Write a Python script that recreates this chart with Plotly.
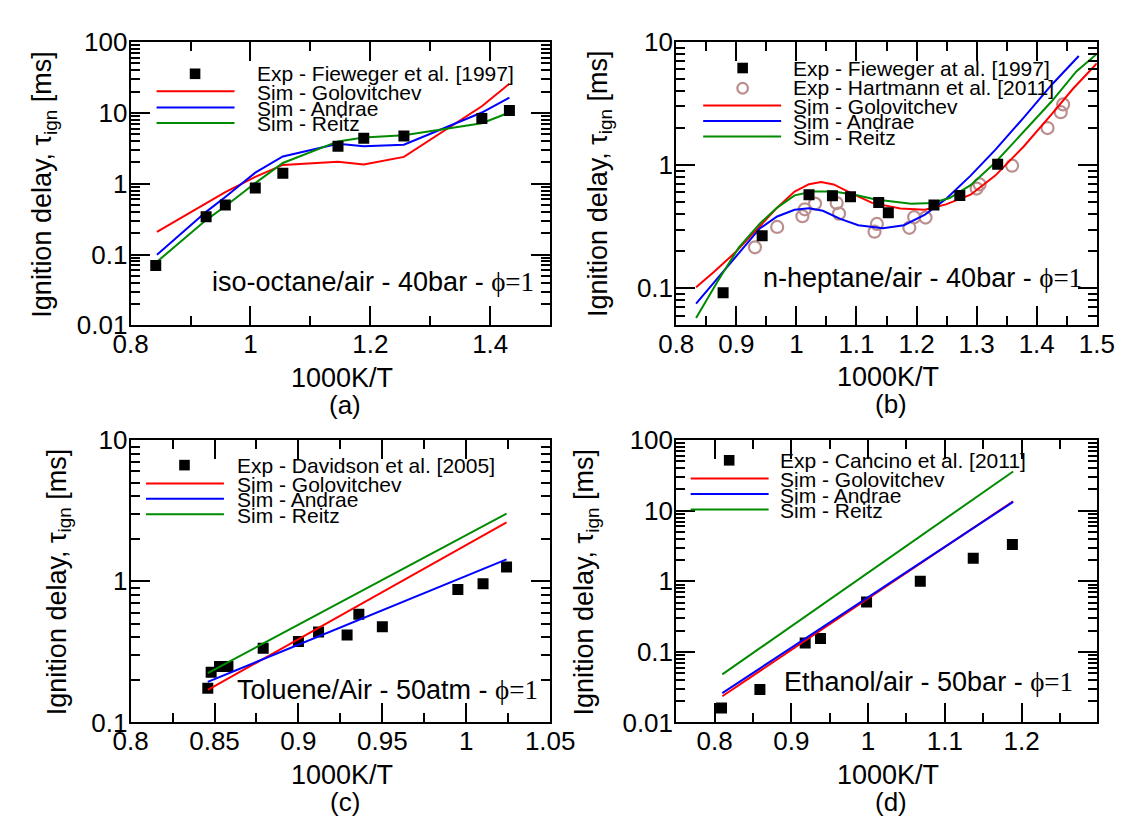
import plotly.graph_objects as go

FONT = "Liberation Sans, Arial, Helvetica, sans-serif"
SERIF = "Liberation Serif, Times New Roman, serif"
RED, BLUE, GREEN, ROSY = "#ff0000", "#0000ff", "#008b00", "#bc8f8f"
W, H = 1142, 830

# ---------------- data ----------------
# (a) iso-octane/air 40 bar
a_exp_x = [0.842, 0.926, 0.958, 1.008, 1.054, 1.146, 1.189, 1.256, 1.386, 1.432]
a_exp_y = [0.070, 0.34, 0.50, 0.87, 1.40, 3.37, 4.38, 4.71, 8.35, 10.8]
a_sim_x = [0.844, 0.926, 0.958, 1.008, 1.054, 1.146, 1.189, 1.256, 1.386, 1.432]
a_golo = [0.208, 0.52, 0.76, 1.25, 1.84, 2.04, 1.86, 2.39, 12.4, 25.8]
a_andrae = [0.099, 0.40, 0.65, 1.43, 2.42, 3.66, 3.37, 3.55, 10.1, 16.4]
a_reitz = [0.079, 0.306, 0.48, 1.02, 1.96, 3.95, 4.47, 4.81, 7.14, 10.1]

# (b) n-heptane/air 40 bar
b_fiew_x = [0.878, 0.943, 1.021, 1.060, 1.090, 1.137, 1.153, 1.229, 1.272, 1.335]
b_fiew_y = [0.092, 0.267, 0.574, 0.565, 0.555, 0.498, 0.411, 0.474, 0.568, 1.015]
b_hart_x = [0.931, 0.968, 1.010, 1.014, 1.031, 1.067, 1.071, 1.130, 1.134,
            1.188, 1.196, 1.215, 1.300, 1.305, 1.359, 1.418, 1.440, 1.444]
b_hart_y = [0.215, 0.315, 0.385, 0.438, 0.487, 0.492, 0.404, 0.288, 0.333,
            0.310, 0.378, 0.375, 0.645, 0.697, 0.99, 2.0, 2.69, 3.11]
b_golo_x = [0.833, 0.863, 0.898, 0.933, 0.968, 0.997, 1.021, 1.041, 1.062, 1.091,
            1.126, 1.173, 1.214, 1.249, 1.290, 1.331, 1.378, 1.425, 1.460, 1.500]
b_golo = [0.102, 0.136, 0.195, 0.297, 0.452, 0.61, 0.70, 0.73, 0.697, 0.592,
          0.494, 0.444, 0.434, 0.48, 0.575, 0.822, 1.41, 2.60, 4.15, 6.7]
b_andrae_x = [0.833, 0.869, 0.904, 0.939, 0.968, 0.997, 1.021, 1.044, 1.073, 1.103,
              1.144, 1.179, 1.214, 1.249, 1.290, 1.331, 1.378, 1.425, 1.470]
b_andrae = [0.075, 0.121, 0.195, 0.306, 0.383, 0.434, 0.447, 0.426, 0.366, 0.325,
            0.308, 0.325, 0.396, 0.532, 0.822, 1.33, 2.42, 4.5, 7.7]
b_reitz_x = [0.833, 0.869, 0.904, 0.939, 0.968, 0.997, 1.027, 1.062, 1.097, 1.132,
             1.191, 1.226, 1.255, 1.290, 1.331, 1.378, 1.425, 1.466, 1.500]
b_reitz = [0.0573, 0.114, 0.214, 0.335, 0.452, 0.568, 0.61, 0.61, 0.574, 0.525,
           0.486, 0.493, 0.541, 0.687, 1.05, 1.85, 3.3, 5.77, 8.0]

# (c) toluene/air 50 atm
c_exp_x = [0.846, 0.848, 0.853, 0.858, 0.879, 0.900, 0.912, 0.929, 0.936, 0.950,
           0.995, 1.010, 1.024]
c_exp_y = [0.175, 0.227, 0.249, 0.249, 0.336, 0.375, 0.438, 0.416, 0.584, 0.476,
           0.873, 0.96, 1.26]
c_sim_x = [0.846, 1.024]
c_golo = [0.170, 2.61]
c_andrae = [0.194, 1.43]
c_reitz = [0.224, 3.01]

# (d) ethanol/air 50 bar
d_exp_x = [0.809, 0.859, 0.918, 0.938, 0.998, 1.068, 1.137, 1.188]
d_exp_y = [0.016, 0.0294, 0.134, 0.155, 0.507, 1.0, 2.12, 3.33]
d_sim_x = [0.810, 1.189]
d_golo = [0.0235, 13.6]
d_andrae = [0.026, 13.3]
d_reitz = [0.048, 35.9]

# ---------------- figure ----------------
fig = go.Figure()


def line(x, y, color, xa, ya):
    fig.add_trace(go.Scatter(x=x, y=y, mode="lines", line=dict(color=color, width=2),
                             xaxis=xa, yaxis=ya, showlegend=False, hoverinfo="skip"))


def squares(x, y, xa, ya):
    fig.add_trace(go.Scatter(x=x, y=y, mode="markers",
                             marker=dict(symbol="square", size=11, color="black",
                                         line=dict(width=0)),
                             xaxis=xa, yaxis=ya, showlegend=False, hoverinfo="skip"))


def circles(x, y, xa, ya):
    fig.add_trace(go.Scatter(x=x, y=y, mode="markers",
                             marker=dict(symbol="circle-open", size=12, color=ROSY,
                                         line=dict(width=2.2, color=ROSY)),
                             xaxis=xa, yaxis=ya, showlegend=False, hoverinfo="skip"))


# (a)
line(a_sim_x, a_golo, RED, "x", "y")
line(a_sim_x, a_andrae, BLUE, "x", "y")
line(a_sim_x, a_reitz, GREEN, "x", "y")
squares(a_exp_x, a_exp_y, "x", "y")
# (b)
circles(b_hart_x, b_hart_y, "x2", "y2")
line(b_golo_x, b_golo, RED, "x2", "y2")
line(b_andrae_x, b_andrae, BLUE, "x2", "y2")
line(b_reitz_x, b_reitz, GREEN, "x2", "y2")
squares(b_fiew_x, b_fiew_y, "x2", "y2")
# (c)
squares(c_exp_x, c_exp_y, "x3", "y3")
line(c_sim_x, c_golo, RED, "x3", "y3")
line(c_sim_x, c_andrae, BLUE, "x3", "y3")
line(c_sim_x, c_reitz, GREEN, "x3", "y3")
# (d)
squares(d_exp_x, d_exp_y, "x4", "y4")
line(d_sim_x, d_golo, RED, "x4", "y4")
line(d_sim_x, d_andrae, BLUE, "x4", "y4")
line(d_sim_x, d_reitz, GREEN, "x4", "y4")

TICKFONT = dict(family=FONT, size=26, color="black")


def axis(domain, anchor, rng, tickvals, ticktext, minorvals, log=False, standoff=0):
    return dict(domain=domain, anchor=anchor, range=rng,
                type="log" if log else "linear",
                tickmode="array", tickvals=tickvals, ticktext=ticktext,
                ticks="inside", ticklen=19, tickwidth=1.5, tickcolor="black",
                showline=True, linecolor="black", linewidth=2, mirror="allticks",
                showgrid=False, zeroline=False, tickfont=TICKFONT,
                ticklabelstandoff=standoff,
                minor=dict(tickmode="array", tickvals=minorvals, ticks="inside",
                           ticklen=9, tickwidth=1.5, tickcolor="black", showgrid=False))


def px(x):
    return x / W


def py(y):
    return 1 - y / H


def logminor(lo, hi):
    vals = []
    for e in range(lo, hi):
        for k in range(2, 10):
            vals.append(k * 10 ** e)
    return vals


dom_xl = [px(117), px(553)]
dom_xr = [px(684), px(1121)]
dom_yt = [py(322), py(28)]
dom_yb = [py(734), py(441)]

bminor = [0.05, 0.06, 0.07, 0.08, 0.09] + logminor(-1, 1)
XS, YS = -6, -4

fig.update_layout(
    width=W, height=H, margin=dict(l=0, r=0, t=0, b=0),
    paper_bgcolor="white", plot_bgcolor="white", showlegend=False,
    font=dict(family=FONT, color="black"),
    xaxis=axis(dom_xl, "y", [0.8, 1.5], [0.8, 1.0, 1.2, 1.4], ["0.8", "1", "1.2", "1.4"],
               [0.9, 1.1, 1.3, 1.5], standoff=XS),
    yaxis=axis(dom_yt, "x", [-2, 2], [0.01, 0.1, 1, 10, 100],
               ["0.01", "0.1", "1", "10", "100"], logminor(-2, 2), log=True, standoff=YS),
    xaxis2=axis(dom_xr, "y2", [0.8, 1.5], [0.8, 0.9, 1.0, 1.1, 1.2, 1.3, 1.4, 1.5],
                ["0.8", "0.9", "1", "1.1", "1.2", "1.3", "1.4", "1.5"],
                [0.85, 0.95, 1.05, 1.15, 1.25, 1.35, 1.45], standoff=XS),
    yaxis2=axis(dom_yt, "x2", [-1.30103, 1], [0.1, 1, 10], ["0.1", "1", "10"], bminor,
                log=True, standoff=YS),
    xaxis3=axis(dom_xl, "y3", [0.8, 1.05], [0.8, 0.85, 0.9, 0.95, 1.0, 1.05],
                ["0.8", "0.85", "0.9", "0.95", "1", "1.05"],
                [0.825, 0.875, 0.925, 0.975, 1.025], standoff=XS),
    yaxis3=axis(dom_yb, "x3", [-1, 1], [0.1, 1, 10], ["0.1", "1", "10"], logminor(-1, 1),
                log=True, standoff=YS),
    xaxis4=axis(dom_xr, "y4", [0.75, 1.298], [0.8, 0.9, 1.0, 1.1, 1.2],
                ["0.8", "0.9", "1", "1.1", "1.2"],
                [0.75, 0.85, 0.95, 1.05, 1.15, 1.25], standoff=XS),
    yaxis4=axis(dom_yb, "x4", [-2, 2], [0.01, 0.1, 1, 10, 100],
                ["0.01", "0.1", "1", "10", "100"], logminor(-2, 2), log=True, standoff=YS),
)

annotations = []
shapes = []


def text(t, x, y, size, xanchor="left", yanchor="middle", angle=0):
    annotations.append(dict(text=t, x=px(x), y=py(y), xref="paper", yref="paper",
                            xanchor=xanchor, yanchor=yanchor, textangle=angle,
                            showarrow=False, font=dict(family=FONT, size=size, color="black")))


def phi(s):
    return s + "<span style='font-family:Liberation Serif, Times New Roman, serif;color:#000000'>ϕ=1</span>"


YTITLE = "Ignition delay, τ<sub>ign</sub> [ms]"
XTITLE = "1000K/T"

# axis titles and panel labels
for (cx, ycx, ycy, xty, lab, laby, labx) in [
        (337, 27, 175, 377, "(a)", 405, 340),
        (904, 604, 175, 376, "(b)", 404, 907),
        (337, 42, 588, 788, "(c)", 817, 340),
        (904, 590, 588, 788, "(d)", 817, 907)]:
    text(XTITLE, cx, xty, 27, xanchor="center")
    text(lab, labx, laby, 26, xanchor="center")
    text(YTITLE, ycx, ycy, 27, xanchor="center", angle=-90)

# panel descriptions
text(phi("iso-octane/air - 40bar - "), 199, 277, 27)
text(phi("n-heptane/air - 40bar - "), 772, 273, 27)
text(phi("Toluene/Air - 50atm - "), 225, 700, 27)
text(phi("Ethanol/air - 50bar - "), 794, 692, 27)

LEGFS = 21


def leg_line(x0, x1, y, color):
    shapes.append(dict(type="line", xref="paper", yref="paper", x0=px(x0), x1=px(x1),
                       y0=py(y), y1=py(y), line=dict(color=color, width=2)))


def leg_square(cx, cy, half=5.5):
    shapes.append(dict(type="rect", xref="paper", yref="paper", x0=px(cx - half),
                       x1=px(cx + half), y0=py(cy + half), y1=py(cy - half),
                       fillcolor="black", line=dict(width=0)))


def leg_circle(cx, cy, r=5.5):
    shapes.append(dict(type="circle", xref="paper", yref="paper", x0=px(cx - r),
                       x1=px(cx + r), y0=py(cy + r), y1=py(cy - r),
                       line=dict(color=ROSY, width=2.2)))


SIMS = ["Sim - Golovitchev", "Sim - Andrae", "Sim - Reitz"]
COLS = [RED, BLUE, GREEN]

# (a) legend
leg_square(184, 61)
text("Exp - Fieweger et al. [1997]", 246, 61, LEGFS)
for t, c, yy in zip(SIMS, COLS, [79, 96, 112]):
    leg_line(144, 225, yy, c)
    text(t, 246, yy + 1, LEGFS)

# (b) legend
leg_square(753, 55)
text("Exp - Fieweger at al. [1997]", 803, 55, LEGFS)
leg_circle(753, 76)
text("Exp - Hartmann et al. [2011]", 803, 75, LEGFS)
for t, c, yy in zip(SIMS, COLS, [94, 110, 126]):
    leg_line(712, 793, yy, c)
    text(t, 803, yy + 1, LEGFS)

# (c) legend
leg_square(173, 467)
text("Exp - Davidson et al. [2005]", 225, 467, LEGFS)
for t, c, yy in zip(SIMS, COLS, [486, 502, 518]):
    leg_line(133, 214, yy, c)
    text(t, 225, yy + 1, LEGFS)

# (d) legend
leg_square(739, 462)
text("Exp - Cancino et al. [2011]", 790, 462, LEGFS)
for t, c, yy in zip(SIMS, COLS, [481, 497, 513]):
    leg_line(699, 780, yy, c)
    text(t, 790, yy + 1, LEGFS)

fig.update_layout(annotations=annotations, shapes=shapes)
fig.write_html("out.html")
